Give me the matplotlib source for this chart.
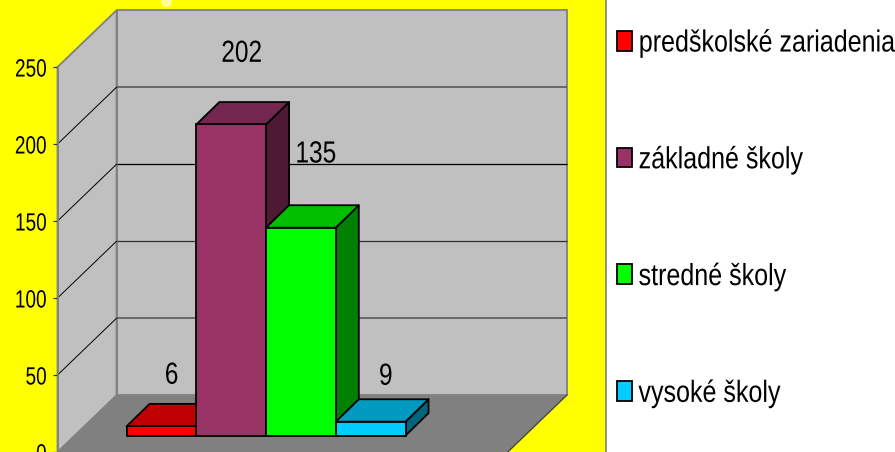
import matplotlib
matplotlib.use("Agg")
import matplotlib.pyplot as plt
from matplotlib.patches import Polygon, Rectangle, Ellipse
from matplotlib.patheffects import AbstractPathEffect
from matplotlib.transforms import Affine2D

categories = ["predškolské zariadenia", "základné školy", "stredné školy", "vysoké školy"]
values = [6, 202, 135, 9]
y_ticks = [0, 50, 100, 150, 200, 250]
front_colors = ["#FF0000", "#993366", "#00FF00", "#00CCFF"]
top_colors = ["#C00000", "#732650", "#00C000", "#0099C0"]
side_colors = ["#800000", "#4D1933", "#008000", "#006680"]

W, H = 895, 452
SCALE = 1.545          # pixels per unit
ZERO_PX = 453.5        # pixel row of value 0 on the front plane


def vy(p):
    """pixel row -> axis value"""
    return (ZERO_PX - p) / SCALE


class Narrow(AbstractPathEffect):
    """Draw real text horizontally condensed, as the reference's narrow face."""

    def __init__(self, sx, anchor=0.0):
        super().__init__()
        self.sx, self.anchor = sx, anchor

    def draw_path(self, renderer, gc, tpath, affine, rgbFace=None):
        ext = tpath.get_extents()
        xa = ext.x0 + self.anchor * ext.width
        squeeze = Affine2D().translate(-xa, 0).scale(self.sx, 1).translate(xa, 0)
        renderer.draw_path(gc, tpath, squeeze + affine, rgbFace)


plt.rcParams["font.family"] = ["Liberation Sans"]

fig = plt.figure(figsize=((W + 0.5) / 100, (H + 0.5) / 100), dpi=100, facecolor="white")
ax = fig.add_axes([0, 0, 1, 1])
ax.set_xlim(-0.5, W - 0.5)
ax.set_ylim(vy(H - 0.5), vy(-0.5))
ax.patch.set_visible(False)

# chart area
ax.add_patch(Rectangle((-5, vy(H + 5)), 610.5, vy(-5) - vy(H + 5), fc="#FFFF00", ec="#808080", lw=1.2, zorder=0))
ax.add_patch(Ellipse((166, vy(2)), 11, 10 / SCALE, fc="#FFFF99", ec="none", zorder=0.5))

# walls
LEFT, BACK, RIGHT = 57, 116, 566
DX = BACK - LEFT
DY = 57 / SCALE
TOP = max(y_ticks)
GREY = "#808080"
ax.add_patch(Polygon([(BACK, DY), (RIGHT, DY), (RIGHT - DX, 0), (LEFT, 0)], fc=GREY, ec="none", zorder=1))
ax.plot([RIGHT, RIGHT - DX], [DY, 0], color="#404040", lw=0.9, zorder=1.1)
ax.add_patch(Polygon([(BACK, DY), (RIGHT, DY), (RIGHT, TOP + DY), (BACK, TOP + DY)],
                     fc="#C0C0C0", ec=GREY, lw=1.3, zorder=1))
ax.add_patch(Polygon([(LEFT, 0), (BACK, DY), (BACK, TOP + DY), (LEFT, TOP)],
                     fc="#C0C0C0", ec=GREY, lw=1.3, zorder=1))
line_styles = {50: ("#606060", 1.3), 100: ("#303030", 0.9), 150: ("#000000", 0.9), 200: ("#606060", 1.3)}
for t in y_ticks[1:-1]:
    c, lw = line_styles[t]
    ax.plot([BACK, RIGHT], [t + DY, t + DY], color=c, lw=lw, zorder=1.2, solid_capstyle="butt")
    ax.plot([LEFT, BACK], [t, t + DY], color="#000000", lw=0.7, zorder=1.2)

# axis
ax.set_xticks([])
ax.set_yticks(y_ticks)
ax.tick_params(axis="y", length=3.6, width=0.9, color="#303030", pad=4, labelsize=18, labelcolor="black")
for s in ("top", "right", "bottom"):
    ax.spines[s].set_visible(False)
ax.spines["left"].set_position(("data", LEFT))
ax.spines["left"].set_bounds(0, TOP)
ax.spines["left"].set_color(GREY)
ax.spines["left"].set_linewidth(1.3)
for lab in ax.get_yticklabels():
    lab.set_path_effects([Narrow(0.76, anchor=1.0)])

# bars
BAR_X0 = 126
BAR_W = 69.7
BASE = vy(437)
DEPTH_X = 23
DEPTH_Y = 22.5 / SCALE
EDGE = dict(ec="black", lw=1.3, joinstyle="round")
handles = []
for i, v in enumerate(values):
    x0 = BAR_X0 + i * BAR_W
    x1 = x0 + BAR_W
    top = BASE + v
    z = 3 + i
    side = Polygon([(x1, BASE), (x1 + DEPTH_X, BASE + DEPTH_Y), (x1 + DEPTH_X, top + DEPTH_Y), (x1, top)],
                   fc=side_colors[i], zorder=z, **EDGE)
    roof = Polygon([(x0, top), (x1, top), (x1 + DEPTH_X, top + DEPTH_Y), (x0 + DEPTH_X, top + DEPTH_Y)],
                   fc=top_colors[i], zorder=z, **EDGE)
    ax.add_patch(side)
    ax.add_patch(roof)
    bars = ax.bar(x0, v, width=BAR_W, bottom=BASE, align="edge", color=front_colors[i],
                  edgecolor="black", linewidth=1.3, zorder=z + 0.1, label=categories[i])
    handles.append(bars[0])

# data labels
label_pos = [(171, 377), (241, 54), (315, 155), (385, 378)]
for v, (px, py) in zip(values, label_pos):
    ax.text(px, vy(py), str(v), ha="center", va="center", fontsize=22, color="black", zorder=10,
            path_effects=[Narrow(0.8, anchor=0.5)])

# legend
leg = ax.legend(handles=handles, labels=categories, loc="upper left",
                bbox_to_anchor=(617 / W, 1 - 29 / H), frameon=False, fontsize=22,
                handlelength=0.49, handleheight=0.62, handletextpad=0.2,
                labelspacing=2.84, borderpad=0, borderaxespad=0)
for t in leg.get_texts():
    t.set_path_effects([Narrow(0.82, anchor=0.0)])

fig.savefig("out.png", dpi=100, facecolor="white")
